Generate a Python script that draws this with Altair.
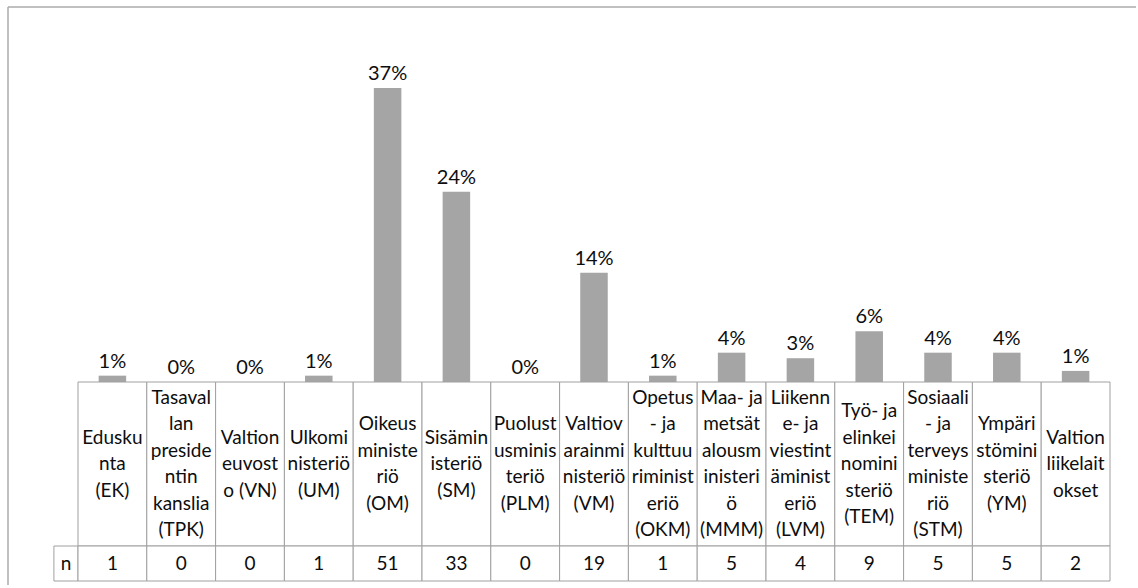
import altair as alt
import pandas as pd

# ---- data ----
categories = ["EK", "TPK", "VN", "UM", "OM", "SM", "PLM", "VM",
              "OKM", "MMM", "LVM", "TEM", "STM", "YM", "VL"]
header_labels = [
    "Edusku\nnta\n(EK)",
    "Tasaval\nlan\npreside\nntin\nkanslia\n(TPK)",
    "Valtion\neuvost\no (VN)",
    "Ulkomi\nnisteriö\n(UM)",
    "Oikeus\nministe\nriö\n(OM)",
    "Sisämin\nisteriö\n(SM)",
    "Puolust\nusminis\nteriö\n(PLM)",
    "Valtiov\narainmi\nnisteriö\n(VM)",
    "Opetus\n- ja\nkulttuu\nriminist\neriö\n(OKM)",
    "Maa- ja\nmetsät\nalousm\ninisteri\nö\n(MMM)",
    "Liikenn\ne- ja\nviestint\näminist\neriö\n(LVM)",
    "Työ- ja\nelinkei\nnomini\nsteriö\n(TEM)",
    "Sosiaali\n- ja\nterveys\nministe\nriö\n(STM)",
    "Ympäri\nstömini\nsteriö\n(YM)",
    "Valtion\nliikelait\nokset",
]
percent_values = [0.8, 0.0, 0.0, 0.8, 37.1, 24.0, 0.0, 13.8,
                  0.8, 3.7, 3.0, 6.4, 3.7, 3.7, 1.4]
n_values = [1, 0, 0, 1, 51, 33, 0, 19, 1, 5, 4, 9, 5, 5, 2]
n_row_label = "n"

# ---- style ----
FONT = "Lato"
TEXT_COLOR = "#0d0d0d"
BAR_COLOR = "#a5a5a5"
GRID_COLOR = "#a0a0a0"
FRAME_COLOR = "#ababab"
N_CELL_WIDTH = 0.35      # width of the "n" label cell, in column units
HEADER_H = 164
LINE_H = 26.5
PLOT_W = 1032

# ---- bar chart ----
df_bars = pd.DataFrame({"cat": categories, "pct": percent_values})
x_band = alt.X("cat:N", sort=categories,
               scale=alt.Scale(paddingInner=0.6, paddingOuter=0.3), axis=None)
y_pct = alt.Y("pct:Q", scale=alt.Scale(domain=[0, 40], nice=False), axis=None)

bars = alt.Chart(df_bars).mark_bar(color=BAR_COLOR).encode(x=x_band, y=y_pct)
labels = alt.Chart(df_bars).transform_calculate(
    label="format(datum.pct, '.0f') + '%'"
).mark_text(font=FONT, fontSize=20, color=TEXT_COLOR,
            baseline="alphabetic", dy=-8).encode(x=x_band, y=y_pct, text="label:N")

dummy = pd.DataFrame({"d": [0]})
frame_top = alt.Chart(dummy).mark_rule(color=FRAME_COLOR, strokeWidth=1.5).encode(
    x=alt.value(-70), x2=alt.value(1058), y=alt.value(-58))
frame_left = alt.Chart(dummy).mark_rule(color=FRAME_COLOR, strokeWidth=1.5).encode(
    x=alt.value(-70), y=alt.value(-58), y2=alt.value(520))

top = alt.layer(bars, labels, frame_top, frame_left).properties(width=PLOT_W, height=317)

# ---- header row of the table ----
df_head = pd.DataFrame({"cat": categories, "head": header_labels})
line_rows = []
for cat, head in zip(categories, header_labels):
    parts = head.split("\n")
    for k, part in enumerate(parts):
        line_rows.append({"cat": cat, "line": part, "k": k, "nlines": len(parts)})
df_lines = pd.DataFrame(line_rows)

x_cols = alt.X("cat:N", sort=categories,
               scale=alt.Scale(paddingInner=0, paddingOuter=0), axis=None)
half = HEADER_H / LINE_H / 2
head_cells = alt.Chart(df_head).mark_rect(fill="white", stroke=GRID_COLOR,
                                          strokeWidth=1).encode(x=x_cols)
head_text = alt.Chart(df_lines).transform_calculate(
    pos="datum.k - (datum.nlines - 1) / 2"
).mark_text(font=FONT, fontSize=19, color=TEXT_COLOR, baseline="middle").encode(
    x=x_cols,
    y=alt.Y("pos:Q", scale=alt.Scale(domain=[-half, half], nice=False, zero=False,
                                     reverse=True), axis=None),
    text="line:N")
header = alt.layer(head_cells, head_text).properties(width=PLOT_W, height=HEADER_H)

# ---- n row of the table ----
df_n = pd.DataFrame({
    "start": [-N_CELL_WIDTH] + list(range(len(categories))),
    "end": [0] + list(range(1, len(categories) + 1)),
    "txt": [n_row_label] + [str(v) for v in n_values],
})
x_q = alt.Scale(domain=[0, len(categories)], nice=False, zero=False)
n_cells = alt.Chart(df_n).mark_rect(fill="white", stroke=GRID_COLOR,
                                    strokeWidth=1).encode(
    x=alt.X("start:Q", scale=x_q, axis=None), x2="end:Q")
n_text = alt.Chart(df_n).transform_calculate(
    mid="(datum.start + datum.end) / 2"
).mark_text(font=FONT, fontSize=19, color=TEXT_COLOR, baseline="middle").encode(
    x=alt.X("mid:Q", scale=x_q, axis=None), text="txt:N")
nrow = alt.layer(n_cells, n_text).properties(width=PLOT_W, height=35)

chart = alt.vconcat(top, header, nrow, spacing=0, bounds="flush").properties(
    padding={"left": 7, "top": 6, "right": 0, "bottom": 0},
    background="white",
).configure_view(strokeWidth=0)

chart.save("out.html", embed_options={"renderer": "svg", "actions": False})
